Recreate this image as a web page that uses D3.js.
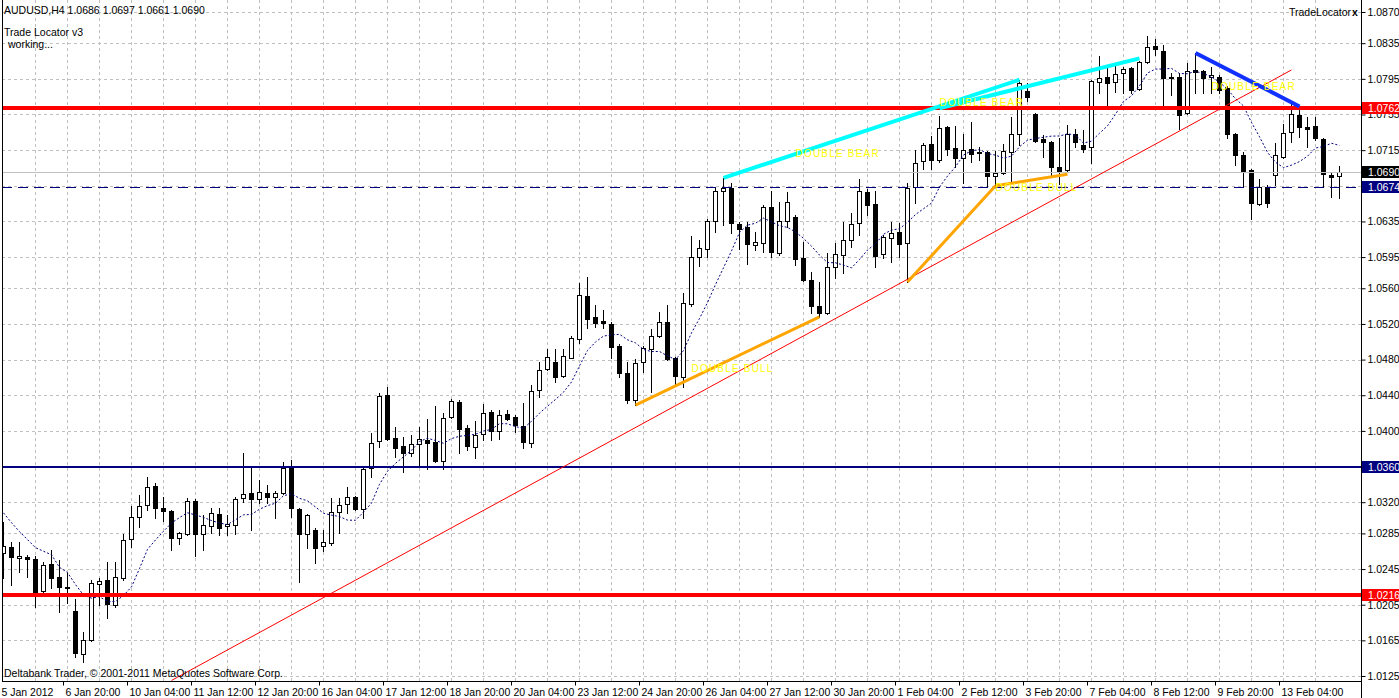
<!DOCTYPE html>
<html>
<head>
<meta charset="utf-8">
<script src="https://cdn.jsdelivr.net/npm/d3@7"></script>
<style>
  body { margin: 0; background: #fff; }
  svg { display: block; }
  text { font-family: "Liberation Sans Narrow", "Arial Narrow", "Liberation Sans", sans-serif; font-size: 10.5px; }
</style>
</head>
<body>
<div id="chart"></div>
<script>
// AUDUSD H4 candles
const open = [1.0263,1.0270,1.0257,1.0259,1.0256,1.0220,1.0251,1.0236,1.0224,1.0198,1.0150,1.0165,1.0228,1.0233,1.0205,1.0235,1.0279,1.0303,1.0317,1.0338,
  1.0313,1.0310,1.0280,1.0284,1.0321,1.0284,1.0293,1.0307,1.0293,1.0294,1.0325,1.0330,1.0324,1.0330,1.0326,1.0330,1.0358,1.0312,1.0284,1.0289,
  1.0271,1.0274,1.0309,1.0318,1.0326,1.0312,1.0358,1.0389,1.0440,1.0392,1.0383,1.0375,1.0385,1.0390,1.0388,1.0366,1.0416,1.0432,1.0403,1.0382,
  1.0397,1.0421,1.0400,1.0419,1.0416,1.0406,1.0386,1.0446,1.0469,1.0477,1.0462,1.0482,1.0503,1.0551,1.0528,1.0523,1.0520,1.0495,1.0465,1.0435,
  1.0477,1.0492,1.0507,1.0522,1.0482,1.0460,1.0542,1.0595,1.0604,1.0635,1.0669,1.0673,1.0632,1.0629,1.0609,1.0611,1.0651,1.0600,1.0635,1.0640,
  1.0594,1.0569,1.0540,1.0532,1.0584,1.0597,1.0614,1.0633,1.0668,1.0655,1.0599,1.0616,1.0623,1.0611,1.0674,1.0703,1.0722,1.0704,1.0741,1.0717,
  1.0706,1.0716,1.0713,1.0713,1.0686,1.0689,1.0713,1.0733,1.0781,1.0756,1.0728,1.0724,1.0696,1.0693,1.0733,1.0721,1.0719,1.0791,1.0797,1.0791,
  1.0802,1.0807,1.0784,1.0814,1.0832,1.0826,1.0797,1.0797,1.0757,1.0805,1.0804,1.0797,1.0797,1.0785,1.0733,1.0710,1.0693,1.0655,1.0674,1.0687,
  1.0707,1.0735,1.0754,1.0741,1.0742,1.0728,1.0687,1.0686];
const high = [1.0298,1.0275,1.0275,1.0261,1.0260,1.0253,1.0266,1.0255,1.0241,1.0211,1.0174,1.0233,1.0235,1.0253,1.0253,1.0284,1.0316,1.0328,1.0348,1.0342,
  1.0326,1.0311,1.0287,1.0325,1.0324,1.0306,1.0313,1.0314,1.0306,1.0326,1.0375,1.0361,1.0345,1.0339,1.0333,1.0365,1.0367,1.0313,1.0307,1.0291,
  1.0289,1.0325,1.0325,1.0337,1.0327,1.0358,1.0398,1.0443,1.0449,1.0404,1.0393,1.0395,1.0404,1.0413,1.0428,1.0420,1.0436,1.0435,1.0407,1.0411,
  1.0430,1.0423,1.0423,1.0423,1.0418,1.0431,1.0452,1.0477,1.0492,1.0492,1.0492,1.0507,1.0566,1.0573,1.0541,1.0536,1.0522,1.0497,1.0477,1.0481,
  1.0495,1.0514,1.0533,1.0541,1.0483,1.0555,1.0619,1.0614,1.0638,1.0674,1.0684,1.0678,1.0634,1.0634,1.0623,1.0653,1.0669,1.0657,1.0668,1.0642,
  1.0612,1.0578,1.0567,1.0600,1.0611,1.0634,1.0644,1.0683,1.0671,1.0669,1.0620,1.0634,1.0633,1.0678,1.0715,1.0723,1.0731,1.0753,1.0742,1.0742,
  1.0733,1.0747,1.0719,1.0714,1.0714,1.0722,1.0752,1.0794,1.0790,1.0757,1.0732,1.0725,1.0729,1.0743,1.0739,1.0738,1.0794,1.0821,1.0808,1.0812,
  1.0808,1.0808,1.0815,1.0843,1.0840,1.0833,1.0802,1.0802,1.0813,1.0824,1.0805,1.0808,1.0799,1.0787,1.0734,1.0713,1.0694,1.0683,1.0676,1.0723,
  1.0744,1.0767,1.0762,1.0752,1.0752,1.0729,1.0690,1.0697];
const low = [1.0235,1.0227,1.0242,1.0236,1.0202,1.0219,1.0224,1.0197,1.0207,1.0146,1.0141,1.0164,1.0205,1.0190,1.0202,1.0233,1.0270,1.0292,1.0311,1.0302,
  1.0299,1.0266,1.0273,1.0283,1.0260,1.0266,1.0285,1.0283,1.0283,1.0284,1.0320,1.0289,1.0319,1.0319,1.0302,1.0329,1.0303,1.0231,1.0269,1.0252,
  1.0265,1.0272,1.0285,1.0308,1.0311,1.0302,1.0348,1.0382,1.0390,1.0371,1.0354,1.0372,1.0359,1.0357,1.0365,1.0357,1.0414,1.0375,1.0379,1.0370,
  1.0390,1.0390,1.0391,1.0412,1.0399,1.0381,1.0382,1.0438,1.0468,1.0455,1.0460,1.0482,1.0499,1.0515,1.0517,1.0515,1.0482,1.0460,1.0431,1.0429,
  1.0466,1.0444,1.0505,1.0480,1.0452,1.0449,1.0540,1.0585,1.0595,1.0623,1.0631,1.0622,1.0604,1.0587,1.0603,1.0601,1.0595,1.0597,1.0629,1.0586,
  1.0568,1.0532,1.0528,1.0531,1.0572,1.0577,1.0606,1.0620,1.0642,1.0584,1.0594,1.0589,1.0595,1.0567,1.0656,1.0694,1.0694,1.0702,1.0710,1.0696,
  1.0678,1.0702,1.0704,1.0675,1.0675,1.0688,1.0679,1.0721,1.0770,1.0724,1.0707,1.0685,1.0677,1.0690,1.0719,1.0713,1.0701,1.0779,1.0764,1.0780,
  1.0779,1.0779,1.0782,1.0813,1.0822,1.0766,1.0777,1.0739,1.0756,1.0779,1.0779,1.0779,1.0779,1.0729,1.0698,1.0674,1.0638,1.0653,1.0651,1.0676,
  1.0706,1.0724,1.0730,1.0719,1.0726,1.0674,1.0662,1.0661];
const close = [1.0271,1.0259,1.0260,1.0256,1.0219,1.0250,1.0235,1.0225,1.0225,1.0151,1.0165,1.0229,1.0232,1.0206,1.0236,1.0278,1.0303,1.0316,1.0337,1.0313,
  1.0310,1.0280,1.0285,1.0321,1.0284,1.0294,1.0308,1.0291,1.0296,1.0324,1.0329,1.0324,1.0331,1.0326,1.0330,1.0358,1.0313,1.0284,1.0306,1.0269,
  1.0275,1.0309,1.0317,1.0326,1.0312,1.0357,1.0386,1.0439,1.0391,1.0381,1.0375,1.0385,1.0391,1.0386,1.0366,1.0414,1.0433,1.0402,1.0383,1.0395,
  1.0420,1.0400,1.0418,1.0413,1.0407,1.0388,1.0445,1.0468,1.0483,1.0460,1.0484,1.0504,1.0552,1.0526,1.0521,1.0521,1.0494,1.0465,1.0435,1.0476,
  1.0493,1.0507,1.0522,1.0481,1.0462,1.0544,1.0595,1.0605,1.0635,1.0669,1.0673,1.0633,1.0627,1.0610,1.0612,1.0651,1.0601,1.0635,1.0657,1.0593,
  1.0569,1.0540,1.0532,1.0584,1.0599,1.0614,1.0632,1.0669,1.0653,1.0596,1.0618,1.0622,1.0610,1.0673,1.0701,1.0721,1.0704,1.0740,1.0716,1.0706,
  1.0715,1.0711,1.0712,1.0686,1.0689,1.0714,1.0733,1.0790,1.0775,1.0725,1.0724,1.0696,1.0690,1.0733,1.0724,1.0716,1.0793,1.0796,1.0790,1.0800,
  1.0806,1.0782,1.0814,1.0831,1.0829,1.0796,1.0796,1.0754,1.0804,1.0803,1.0796,1.0799,1.0782,1.0733,1.0710,1.0690,1.0656,1.0674,1.0656,1.0710,
  1.0734,1.0756,1.0741,1.0739,1.0729,1.0688,1.0685,1.0690];

// moving average: first bars (history before the window), then 8-bar SMA of the closes
const maLead = [1.0308,1.0297,1.0287,1.0278,1.0269,1.0265,1.0261];
const maPeriod = 8;

// axis labels
const priceTicks = [1.0870,1.0835,1.0795,1.0755,1.0715,1.0675,1.0635,1.0595,1.0560,1.0520,1.0480,1.0440,1.0400,1.0360,1.0320,1.0285,1.0245,1.0205,1.0165,1.0125];
const timeLabels = ["5 Jan 2012","6 Jan 20:00","10 Jan 04:00","11 Jan 12:00","12 Jan 20:00","16 Jan 04:00","17 Jan 12:00","18 Jan 20:00","20 Jan 04:00",
  "23 Jan 12:00","24 Jan 20:00","26 Jan 04:00","27 Jan 12:00","30 Jan 20:00","1 Feb 04:00","2 Feb 12:00","3 Feb 20:00","7 Feb 04:00","8 Feb 12:00",
  "9 Feb 20:00","13 Feb 04:00"];

// horizontal levels
const redLevels = [1.0762, 1.0216];
const navyLevels = [1.0360];
const dashLevels = [1.0674];
const bidPrice = 1.0690;

// trend objects: [bar, price] pairs
const redTrend = [[21, 1.0120], [161, 1.0805]];
const orangeLines = [[[79, 1.0429], [102, 1.0528]], [[113, 1.0567], [124, 1.0675]], [[124, 1.0675], [133, 1.0688]]];
const cyanLines = [[[90, 1.0684], [127, 1.0794]], [[117, 1.0762], [142, 1.0818]]];
const blueLines = [[[149, 1.0824], [162, 1.0764]]];

// pattern labels: [bar, price, text]
const patternLabels = [[99, 1.0707, "DOUBLE BEAR"], [117, 1.0765, "DOUBLE BEAR"], [151, 1.0783, "DOUBLE BEAR"],
  [86, 1.0466, "DOUBLE BULL"], [124, 1.0669, "DOUBLE BULL"]];

const W = 1399, H = 698;
const plot = { left: 2, right: 1361, top: 0, bottom: 681 };
const n = close.length;

const svg = d3.select("#chart").append("svg")
  .attr("width", W)
  .attr("height", H);

const x = d3.scaleBand().domain(d3.range(n)).range([-0.5, -0.5 + 8 * n]);
const xc = i => x(i) + x.bandwidth() / 2;
const xi = d3.scaleLinear().domain([0, n - 1]).range([xc(0), xc(n - 1)]);
const y = d3.scaleLinear().domain([1.0870, 1.0125]).range([12, 676]);

svg.append("clipPath").attr("id", "plotclip")
  .append("rect")
  .attr("x", plot.left + 1).attr("y", plot.top)
  .attr("width", plot.right - plot.left - 1).attr("height", plot.bottom - plot.top);

const g = svg.append("g").attr("clip-path", "url(#plotclip)");

// grid
g.append("g").selectAll("line")
  .data(d3.range(4, n, 4))
  .join("line")
  .attr("x1", d => Math.floor(xc(d)) + 0.5).attr("x2", d => Math.floor(xc(d)) + 0.5)
  .attr("y1", plot.top).attr("y2", plot.bottom)
  .attr("stroke", "#c0c0c0").attr("stroke-dasharray", "3,3");

g.append("g").selectAll("line")
  .data(priceTicks)
  .join("line")
  .attr("x1", plot.left).attr("x2", plot.right)
  .attr("y1", d => Math.round(y(d)) + 0.5).attr("y2", d => Math.round(y(d)) + 0.5)
  .attr("stroke", "#c0c0c0").attr("stroke-dasharray", "3,3");

// candles
const candles = g.append("g").attr("shape-rendering", "crispEdges");
const bars = candles.selectAll("g.bar")
  .data(d3.range(n))
  .join("g")
  .attr("class", "bar");

bars.append("line")
  .attr("x1", i => Math.floor(xc(i)) + 0.5).attr("x2", i => Math.floor(xc(i)) + 0.5)
  .attr("y1", i => Math.round(y(high[i]))).attr("y2", i => Math.round(y(low[i])) + 1)
  .attr("stroke", "#000");

bars.append("rect")
  .attr("x", i => Math.floor(xc(i)) - 1.5)
  .attr("width", 4)
  .attr("y", i => Math.round(y(Math.max(open[i], close[i]))) + 0.5)
  .attr("height", i => Math.max(0, Math.round(y(Math.min(open[i], close[i]))) - Math.round(y(Math.max(open[i], close[i])))))
  .attr("fill", i => close[i] >= open[i] ? "#fff" : "#000")
  .attr("stroke", "#000");

// moving average
const ma = d3.range(n).map(i => i < maPeriod - 1 ? maLead[i] : d3.mean(close.slice(i - maPeriod + 1, i + 1)));
g.append("path")
  .datum(ma)
  .attr("fill", "none")
  .attr("stroke", "#000080")
  .attr("stroke-width", 1)
  .attr("stroke-dasharray", "2,2")
  .attr("d", d3.line().x((d, i) => xc(i)).y(d => y(d)));

// levels
g.append("line")
  .attr("x1", plot.left).attr("x2", plot.right)
  .attr("y1", Math.round(y(bidPrice)) + 0.5).attr("y2", Math.round(y(bidPrice)) + 0.5)
  .attr("stroke", "#c0c0c0");

g.selectAll("line.dash")
  .data(dashLevels)
  .join("line")
  .attr("class", "dash")
  .attr("x1", plot.left).attr("x2", plot.right)
  .attr("y1", d => Math.round(y(d)) + 0.5).attr("y2", d => Math.round(y(d)) + 0.5)
  .attr("stroke", "#000080").attr("stroke-dasharray", "10,6");

g.selectAll("line.navy")
  .data(navyLevels)
  .join("line")
  .attr("class", "navy")
  .attr("x1", plot.left).attr("x2", plot.right)
  .attr("y1", d => Math.round(y(d))).attr("y2", d => Math.round(y(d)))
  .attr("stroke", "#000080").attr("stroke-width", 2);

g.selectAll("line.red")
  .data(redLevels)
  .join("line")
  .attr("class", "red")
  .attr("x1", plot.left).attr("x2", plot.right)
  .attr("y1", d => Math.round(y(d))).attr("y2", d => Math.round(y(d)))
  .attr("stroke", "#ff0000").attr("stroke-width", 4);

// trend lines
const seg = d3.line().x(d => xi(d[0])).y(d => y(d[1]));

g.append("path").datum(redTrend)
  .attr("fill", "none").attr("stroke", "#ff0000").attr("stroke-width", 1)
  .attr("d", seg);

g.selectAll("path.orange")
  .data(orangeLines)
  .join("path")
  .attr("class", "orange")
  .attr("fill", "none").attr("stroke", "#ffa500").attr("stroke-width", 3)
  .attr("d", seg);

g.selectAll("path.cyan")
  .data(cyanLines)
  .join("path")
  .attr("class", "cyan")
  .attr("fill", "none").attr("stroke", "#00ffff").attr("stroke-width", 4)
  .attr("d", seg);

g.selectAll("path.blue")
  .data(blueLines)
  .join("path")
  .attr("class", "blue")
  .attr("fill", "none").attr("stroke", "#1030ff").attr("stroke-width", 4)
  .attr("d", seg);

g.selectAll("text.pattern")
  .data(patternLabels)
  .join("text")
  .attr("class", "pattern")
  .attr("x", d => xi(d[0]))
  .attr("y", d => y(d[1]))
  .attr("fill", "#ffff00")
  .style("font-family", "'Liberation Sans', Arial, sans-serif")
  .style("font-size", "10px")
  .style("letter-spacing", "1.2px")
  .text(d => d[2]);

// frame
svg.append("g").attr("shape-rendering", "crispEdges").selectAll("line")
  .data([[plot.left + 0.5, 0, plot.left + 0.5, plot.bottom], [plot.right + 0.5, 0, plot.right + 0.5, H],
    [plot.left, plot.bottom + 0.5, plot.right, plot.bottom + 0.5]])
  .join("line")
  .attr("x1", d => d[0]).attr("y1", d => d[1]).attr("x2", d => d[2]).attr("y2", d => d[3])
  .attr("stroke", "#000");

// price axis
const yAxis = svg.append("g")
  .attr("transform", "translate(" + (plot.right + 0.5) + ",0)")
  .call(d3.axisRight(y).tickValues(priceTicks).tickSize(4).tickPadding(2).tickFormat(d3.format(".4f")));
yAxis.select(".domain").remove();
yAxis.selectAll("text").style("font-size", "10.5px").attr("fill", "#000");

// highlighted price boxes
const boxes = [[1.0762, "#ff0000"], [1.0690, "#000000"], [1.0674, "#000080"], [1.0360, "#000080"], [1.0216, "#ff0000"]];
const box = svg.append("g").selectAll("g")
  .data(boxes)
  .join("g")
  .attr("transform", d => "translate(" + (plot.right + 1) + "," + Math.round(y(d[0])) + ")");
box.append("rect")
  .attr("x", 0).attr("y", -6).attr("width", 37).attr("height", 12)
  .attr("fill", d => d[1]);
box.append("text")
  .attr("x", 6).attr("y", 4)
  .attr("fill", "#fff")
  .text(d => d[0].toFixed(4));

// time axis
const xAxis = svg.append("g")
  .attr("transform", "translate(0," + (plot.bottom + 0.5) + ")")
  .call(d3.axisBottom(x).tickValues(d3.range(0, n, 8)).tickSize(4).tickPadding(3)
    .tickFormat((d, i) => timeLabels[i]));
xAxis.select(".domain").remove();
xAxis.selectAll(".tick line").attr("transform", "translate(-4,0)");
xAxis.selectAll(".tick text")
  .attr("text-anchor", "start")
  .attr("x", -2)
  .style("font-size", "10.5px")
  .attr("fill", "#000");

// header and footer texts
svg.append("text").attr("x", 4).attr("y", 14).text("AUDUSD,H4  1.0686 1.0697 1.0661 1.0690");
svg.append("text").attr("x", 4).attr("y", 36).text("Trade Locator v3");
svg.append("text").attr("x", 8).attr("y", 48).text("working...");
svg.append("text").attr("x", 1289).attr("y", 16).text("TradeLocator");
svg.append("text").attr("x", 1352).attr("y", 16).style("font-weight", "bold").text("x");
svg.append("text").attr("x", 4).attr("y", 677).text("Deltabank Trader, \u00a9 2001-2011 MetaQuotes Software Corp.");
</script>
</body>
</html>
